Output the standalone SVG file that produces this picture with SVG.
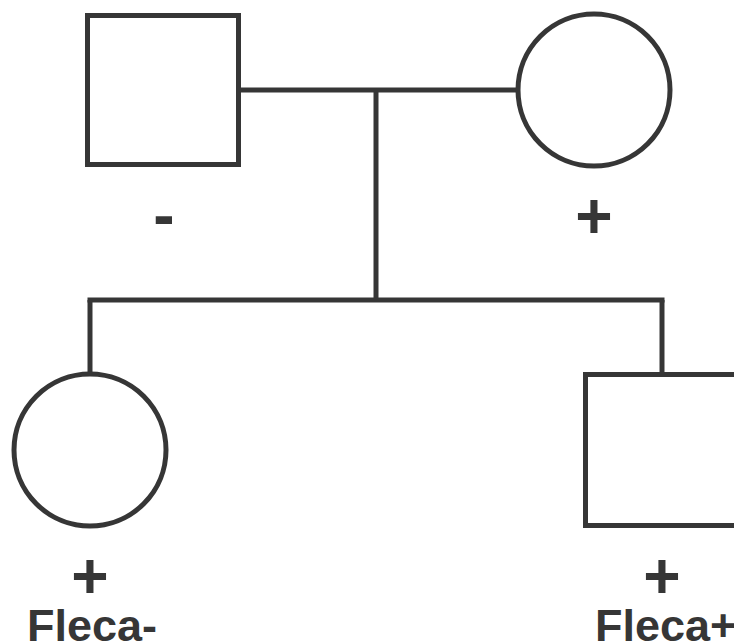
<svg xmlns="http://www.w3.org/2000/svg" width="734" height="642" viewBox="0 0 734 642">
<style>
.s{fill:#fff;stroke:#363636;stroke-width:5}
.c{fill:none;stroke:#363636;stroke-width:5}
.sym{font-family:"Liberation Sans",Arial,sans-serif;font-weight:bold;font-size:64px;fill:#363636;text-anchor:middle}
.lbl{font-family:"Liberation Sans",Arial,sans-serif;font-weight:bold;font-size:45px;fill:#363636;text-anchor:start}
</style>
<rect width="734" height="642" fill="#fff"/>
<g id="connectors">
<path class="c" d="M240 90H517"/>
<path class="c" d="M376 90V300"/>
<path class="c" d="M87.5 300H664.5"/>
<path class="c" d="M90 300V374"/>
<path class="c" d="M662 300V374"/>
</g>
<g id="father">
<rect class="s" x="87.5" y="15.5" width="151" height="149"/>
<text class="sym" x="164" y="237">-</text>
</g>
<g id="mother">
<circle class="s" cx="594" cy="90" r="76"/>
<text class="sym" x="594" y="238">+</text>
</g>
<g id="daughter">
<circle class="s" cx="90" cy="450" r="76"/>
<text class="sym" x="90" y="598">+</text>
<text class="lbl" x="27" y="641">Fleca-</text>
</g>
<g id="son">
<rect class="s" x="585.5" y="374.5" width="154" height="151"/>
<text class="sym" x="662" y="598">+</text>
<text class="lbl" x="595" y="641">Fleca+</text>
</g>
</svg>
